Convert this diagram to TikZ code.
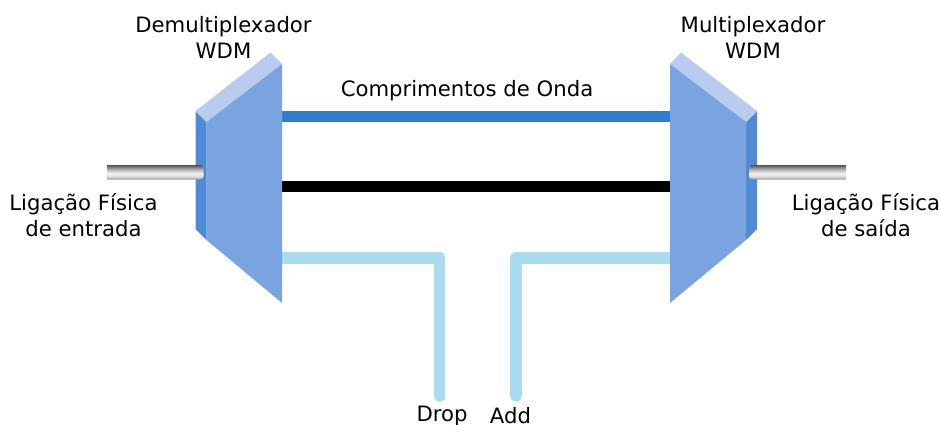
\documentclass[tikz,border=0pt]{standalone}
\usepackage{fontspec}
\setmainfont{DejaVu Sans}
\definecolor{frontc}{HTML}{7AA4DF}
\definecolor{topc}{HTML}{B9CBEE}
\definecolor{sidec}{HTML}{4F8BD4}
\definecolor{chanblue}{HTML}{2E7DCE}
\definecolor{chanlight}{HTML}{A8DCEE}
\pgfdeclareverticalshading{fibreshade}{100bp}{
  color(0bp)=(black!42);
  color(25bp)=(black!42);
  color(36bp)=(black!12);
  color(46bp)=(black!5);
  color(60bp)=(black!30);
  color(75bp)=(black!68);
  color(100bp)=(black!68)}
\tikzset{
  plain text/.style={font=\fontsize{15.9pt}{19.8pt}\selectfont, inner sep=0pt, text=black},
  label text/.style={plain text, align=center},
  channel/.style={line width=8.6pt},
  fibre/.style={shading=fibreshade, draw=none},
  front face/.style={fill=frontc, draw=none},
  top face/.style={fill=topc, draw=none},
  side face/.style={fill=sidec, draw=none}
}
\begin{document}
\begin{tikzpicture}[x=0.75pt,y=-0.75pt]
\useasboundingbox (0,0) rectangle (940,425);
% named anchors
\coordinate (dA) at (282,116.5);
\coordinate (mA) at (670,116.5);
\coordinate (dB) at (282,186.7);
\coordinate (mB) at (670,186.7);
\coordinate (dC) at (282,258);
\coordinate (dropC) at (439.7,258);
\coordinate (dropEnd) at (439.7,396);
\coordinate (mC) at (670,258);
\coordinate (addC) at (516,258);
\coordinate (addEnd) at (516,396);
% channels
\draw[channel,chanblue] (dA) -- (mA);
\draw[channel,black] (dB) -- (mB);
\draw[channel,chanlight,line join=round] (dC) -- (dropC) -- (dropEnd);
\draw[channel,chanlight,line join=round] (mC) -- (addC) -- (addEnd);
\fill[chanlight] (dropEnd) circle (5.7);
\fill[chanlight] (addEnd) circle (5.7);
% demultiplexer
\fill[side face] (195.5,111) -- (206.5,122) -- (206.5,240) -- (195.5,229) -- cycle;
\fill[top face] (195.5,111) -- (270.5,52.5) -- (282,64) -- (206.5,122) -- cycle;
\fill[front face] (206.5,122) -- (282,64) -- (282,303) -- (206.5,240) -- cycle;
% multiplexer
\fill[side face] (746,122) -- (757,111) -- (757,229) -- (746,240) -- cycle;
\fill[top face] (670,64) -- (681,52.5) -- (757,111) -- (746,122) -- cycle;
\fill[front face] (670,64) -- (746,122) -- (746,240) -- (670,303) -- cycle;
% fibres
\shade[fibre] (107,165) {[rounded corners=2.5pt] -- (203.5,165) -- (203.5,179.5)} -- (107,179.5) -- cycle;
\shade[fibre] (846,165) {[rounded corners=2.5pt] -- (749,165) -- (749,179.5)} -- (846,179.5) -- cycle;
% labels
\node[label text] (t1) at (223.5,37.5) {Demultiplexador\\WDM};
\node[label text] (t2) at (753,37.5) {Multiplexador\\WDM};
\node[label text] (t3) at (467,90.5) {Comprimentos de Onda};
\node[label text] (t4) at (83.5,215) {Ligação Física\\de entrada};
\node[label text] (t5) at (866,215) {Ligação Física\\de saída};
\node[plain text,anchor=base] (t6) at (442,421) {Drop};
\node[plain text,anchor=base] (t7) at (510.5,423.5) {Add};
\end{tikzpicture}
\end{document}
